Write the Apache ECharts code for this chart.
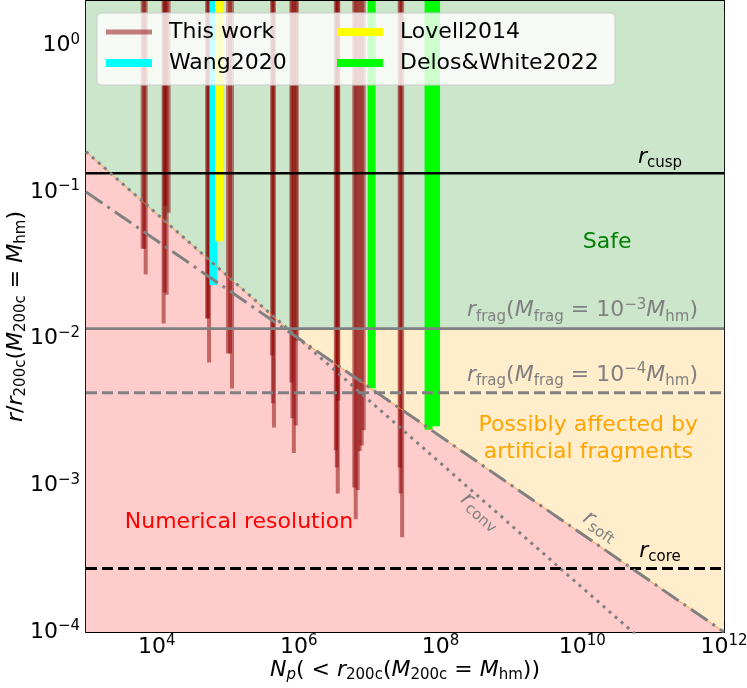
<!DOCTYPE html>
<html lang="en">
<head>
<meta charset="UTF-8" />
<title>Resolution limits</title>
<script src="https://cdn.jsdelivr.net/npm/echarts@6.0.0/dist/echarts.min.js"></script>
<style>
  html, body { margin: 0; padding: 0; background: #fff; }
  #main { width: 747px; height: 688px; }
</style>
</head>
<body>
<div id="main"></div>
<script>
// axis range and tick exponents
var xMin = 1e3, xMax = 1e12;
var yMin = 1e-4, yMax = 2;
var xTickExp = [4, 6, 8, 10, 12];
var yTickExp = [-4, -3, -2, -1, 0];

// characteristic radii (r / r200c)
var rCusp = 0.134;
var rFrag3 = 0.0117;
var rFrag4 = 0.00427;
var rCore = 2.71e-4;
// r_soft and r_conv lines (end points)
var softN = [1e3, 1e12], softR = [0.1, 1e-4];
var convN = [1e3, 1e12], convR = [0.188, 2.84e-5];
// upper edge of the "numerical resolution" region: max(r_conv, r_soft)
var limitN = [1e3, 9.3e5, 1e12], limitR = [0.188, 0.01025, 1e-4];

// This work: particle number and smallest trusted radius of each profile
var workN = [6.30e3, 6.62e3, 6.95e3,
  1.245e4, 1.285e4, 1.307e4, 1.372e4, 1.464e4,
  5.10e4, 5.27e4, 5.44e4,
  1.007e5, 1.075e5, 1.147e5,
  4.22e5, 4.33e5, 4.48e5,
  7.89e5, 8.15e5, 8.55e5, 9.12e5, 9.42e5,
  3.34e6, 3.45e6, 3.56e6, 3.62e6,
  6.08e6, 6.38e6, 6.81e6, 7.26e6, 7.75e6, 8.27e6,
  2.66e7, 2.74e7, 2.88e7];
var workR = [0.0410, 0.0410, 0.0273,
  0.01265, 0.0206, 0.0805, 0.0199, 0.0721,
  0.01368, 0.01368, 0.00687,
  0.00791, 0.00791, 0.00457,
  0.00766, 0.00362, 0.00248,
  0.00501, 0.00286, 0.00166, 0.00256, 0.00969,
  0.00173, 0.00132, 0.000880, 0.00378,
  0.000966, 0.000587, 0.000927, 0.00171, 0.00187, 0.00237,
  0.00132, 0.000880, 0.000442];
var wangN = [6.3e4], wangR = [0.0232];
var lovellN = [7.52e4], lovellR = [0.046];
var delosN = [1.07e7, 6.8e7, 8.67e7], delosR = [0.00459, 0.00239, 0.00253];

var FONT = 'DejaVu Sans';
var GRAY = '#808080';

function pairs(a, b) { return a.map(function (v, i) { return [v, b[i]]; }); }

function mathRich(size, color) {
  var s = Math.round(size * 0.7);
  return {
    i: { fontFamily: FONT, fontSize: size, fontStyle: 'italic', color: color, fill: color, lineHeight: size + 4 },
    sub: { fontFamily: FONT, fontSize: s, color: color, fill: color, verticalAlign: 'bottom', lineHeight: s - 3 },
    subi: { fontFamily: FONT, fontSize: s, fontStyle: 'italic', color: color, fill: color, verticalAlign: 'bottom', lineHeight: s - 3 },
    sup: { fontFamily: FONT, fontSize: s, color: color, fill: color, verticalAlign: 'top', lineHeight: s - 6 },
    b: { fontFamily: FONT, fontSize: size, color: color, fill: color, lineHeight: size + 4 }
  };
}

function powLabel(v) {
  var e = Math.round(Math.log10(v));
  return '{b|10}{sup|' + (e < 0 ? '\u2212' : '') + Math.abs(e) + '}';
}

var majorX = xTickExp.map(function (e) { return Math.pow(10, e); });
var majorY = yTickExp.map(function (e) { return Math.pow(10, e); });
var minorY = [];
yTickExp.forEach(function (e) {
  for (var k = 2; k <= 9; k++) {
    var v = k * Math.pow(10, e);
    if (v <= yMax) minorY.push(v);
  }
});

function xAxisCfg(pos, labels) {
  return {
    type: 'log', min: xMin, max: xMax, position: pos,
    axisLine: { show: true, onZero: false, lineStyle: { color: '#000', width: 1.8 } },
    axisTick: { show: true, inside: true, length: 10, customValues: majorX, lineStyle: { color: '#000', width: 1.8 } },
    axisLabel: labels ? { show: true, margin: 2, customValues: majorX, formatter: powLabel, rich: mathRich(22, '#000') } : { show: false },
    splitLine: { show: false }, minorTick: { show: false }
  };
}
function yAxisCfg(pos, minor, labels) {
  return {
    type: 'log', min: yMin, max: yMax, position: pos,
    axisLine: { show: !minor, onZero: false, lineStyle: { color: '#000', width: 1.8 } },
    axisTick: { show: true, inside: true, length: minor ? 5 : 10, customValues: minor ? minorY : majorY,
      lineStyle: { color: '#000', width: minor ? 1.2 : 1.8 } },
    axisLabel: labels ? { show: true, margin: 6, customValues: majorY, formatter: powLabel, rich: mathRich(22, '#000') } : { show: false },
    splitLine: { show: false }, minorTick: { show: false }
  };
}

function area(data, color) {
  return { type: 'line', data: data, symbol: 'none', silent: true, z: 1,
    lineStyle: { width: 0, opacity: 0 }, areaStyle: { color: color, opacity: 1, origin: 'start' } };
}
function guide(name, data, color, width, dash) {
  return { type: 'line', name: name, data: data, symbol: 'none', silent: true, z: 4,
    lineStyle: { color: color, width: width, type: dash || 'solid', cap: 'butt' } };
}
function bars(name, N, R, color, width) {
  return {
    type: 'custom', name: name, clip: true, silent: true, z: 3,
    itemStyle: { color: color },
    data: pairs(N, R),
    renderItem: function (params, api) {
      var lo = api.coord([api.value(0), api.value(1)]);
      var hi = api.coord([api.value(0), yMax]);
      return { type: 'line', shape: { x1: lo[0], y1: lo[1], x2: hi[0], y2: hi[1] },
        style: { stroke: color, lineWidth: width, lineCap: 'butt' } };
    }
  };
}

var WORK = 'rgba(139,0,0,0.5)';

function legendCfg(name, left, top, color, h) {
  return {
    left: left, top: top, padding: 0, z: 6, selectedMode: false,
    itemWidth: 46, itemHeight: h, icon: 'rect',
    data: [{ name: name, icon: 'rect', itemStyle: { color: color } }],
    formatter: '{g| }{name}',
    textStyle: { fontFamily: FONT, fontSize: 22, color: '#000', lineHeight: 26,
      rich: { g: { width: 12 } } }
  };
}

var option = {
  animation: false,
  backgroundColor: '#fff',
  grid: { left: 86, top: 1, width: 638, height: 631, containLabel: false, outerBoundsMode: 'none' },
  xAxis: [
    Object.assign(xAxisCfg('bottom', true), {
      name: '{i|N}{subi|p}( < {i|r}{sub|200c}({i|M}{sub|200c} = {i|M}{sub|hm}))',
      nameLocation: 'middle', nameGap: 25, nameMoveOverlap: false,
      nameTextStyle: { fontFamily: FONT, fontSize: 22, color: '#000', lineHeight: 26, rich: mathRich(22, '#000') }
    }),
    xAxisCfg('top', false)
  ],
  yAxis: [
    Object.assign(yAxisCfg('left', false, true), {
      name: '{i|r}/{i|r}{sub|200c}({i|M}{sub|200c} = {i|M}{sub|hm})',
      nameLocation: 'middle', nameGap: 57, nameRotate: 90, nameMoveOverlap: false,
      nameTextStyle: { fontFamily: FONT, fontSize: 22, color: '#000', lineHeight: 26, rich: mathRich(22, '#000') }
    }),
    yAxisCfg('left', true, false),
    yAxisCfg('right', false, false),
    yAxisCfg('right', true, false)
  ],
  legend: [
    legendCfg('This work', 106, 19, WORK, 5),
    legendCfg('Wang2020', 106, 50, '#00ffff', 8),
    legendCfg('Lovell2014', 337, 19, '#ffff00', 8),
    legendCfg('Delos&White2022', 337, 50, '#00ff00', 8)
  ],
  series: [
    area([[xMin, yMax], [xMax, yMax]], '#cce6cc'),
    area([[xMin, rFrag3], [xMax, rFrag3]], '#ffedcc'),
    area(pairs(limitN, limitR), '#ffcccc'),
    guide('edge', pairs(limitN, limitR), 'rgba(255,150,60,0.8)', 1),
    bars('This work', workN, workR, WORK, 4),
    bars('Wang2020', wangN, wangR, '#00ffff', 8),
    bars('Lovell2014', lovellN, lovellR, '#ffff00', 8),
    bars('Delos&White2022', delosN, delosR, '#00ff00', 8),
    guide('rfrag3', [[xMin, rFrag3], [xMax, rFrag3]], GRAY, 2.6),
    guide('rfrag4', [[xMin, rFrag4], [xMax, rFrag4]], GRAY, 3, [11, 5]),
    guide('rcore', [[xMin, rCore], [xMax, rCore]], '#000', 3, [11, 5]),
    guide('rcusp', [[xMin, rCusp], [xMax, rCusp]], '#000', 2.6),
    guide('rsoft', pairs(softN, softR), GRAY, 3, [20, 6, 3, 6]),
    guide('rconv', pairs(convN, convR), GRAY, 3, [3, 5])
  ]
};

var chart = echarts.init(document.getElementById('main'));
chart.setOption(option);

// annotations anchored in data coordinates
var notes = [
  { text: '{i|r}{sub|cusp}', N: 1.25e11, r: 0.171, color: '#000' },
  { text: 'Safe', N: 2.25e10, r: 0.0451, color: '#008000' },
  { text: '{i|r}{sub|frag}({i|M}{sub|frag} = 10{sup|\u22123}{i|M}{sub|hm})', N: 4.3e11, r: 0.0155, color: GRAY, align: 'right' },
  { text: '{i|r}{sub|frag}({i|M}{sub|frag} = 10{sup|\u22124}{i|M}{sub|hm})', N: 4.3e11, r: 0.0056, color: GRAY, align: 'right' },
  { text: 'Possibly affected by\nartificial fragments', N: 1.22e10, r: 0.00207, color: '#ffa500' },
  { text: 'Numerical resolution', N: 1.44e5, r: 5.58e-4, color: '#ff0000' },
  { text: '{i|r}{sub|conv}', N: 3.67e8, r: 6.64e-4, color: GRAY, along: [convN, convR] },
  { text: '{i|r}{sub|soft}', N: 1.79e10, r: 5.25e-4, color: GRAY, along: [softN, softR] },
  { text: '{i|r}{sub|core}', N: 1.25e11, r: 3.55e-4, color: '#000' }
];

function toPx(n, r) { return chart.convertToPixel({ xAxisIndex: 0, yAxisIndex: 0 }, [n, r]); }

var graphics = [{
  type: 'rect', z: 5, silent: true,
  shape: { x: 97, y: 13, width: 518, height: 72, r: 4 },
  style: { fill: 'rgba(255,255,255,0.8)', stroke: '#cccccc', lineWidth: 1 }
}];
notes.forEach(function (n) {
  var p = toPx(n.N, n.r);
  var rot = 0;
  if (n.along) {
    var a = toPx(n.along[0][0], n.along[1][0]);
    var b = toPx(n.along[0][1], n.along[1][1]);
    rot = -Math.atan2(b[1] - a[1], b[0] - a[0]);
  }
  graphics.push({
    type: 'text', z: 7, silent: true, x: p[0], y: p[1], rotation: rot,
    style: {
      text: n.text, fill: n.color, fontFamily: FONT, fontSize: 22, lineHeight: 27,
      align: n.align || 'center', verticalAlign: 'middle',
      rich: mathRich(22, n.color)
    }
  });
});
chart.setOption({ graphic: graphics });
</script>
</body>
</html>
